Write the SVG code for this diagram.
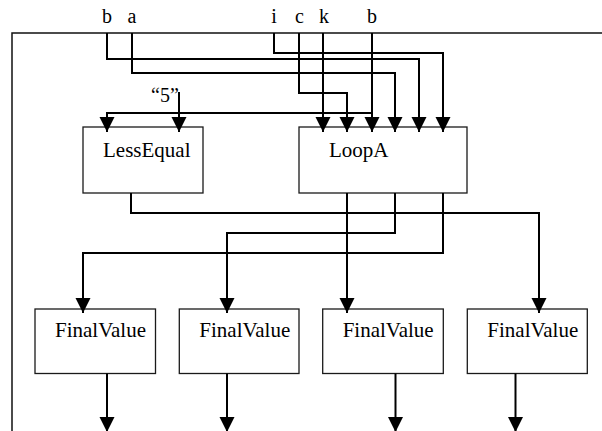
<svg xmlns="http://www.w3.org/2000/svg" width="602" height="431" viewBox="0 0 602 431">
  <style>
    .frame { fill: none; stroke: #111; stroke-width: 1.5; }
    .box { fill: #fff; stroke: #1a1a1a; stroke-width: 1.3; }
    .wire { fill: none; stroke: #000; stroke-width: 2; marker-end: url(#arrow); }
    .plain { fill: none; stroke: #000; stroke-width: 2; }
    .lbl { font-family: "Liberation Serif", "Times New Roman", serif; font-size: 20px; fill: #000; }
    .name { font-family: "Liberation Serif", "Times New Roman", serif; font-size: 21px; fill: #000; }
  </style>
  <defs>
    <marker id="arrow" markerUnits="userSpaceOnUse" markerWidth="16" markerHeight="16" viewBox="0 0 16 16" refX="15" refY="8" orient="auto">
      <path d="M0,0.5 L15,8 L0,15.5 z" fill="#000"/>
    </marker>
  </defs>
  <rect width="602" height="431" fill="#fff"/>

  <!-- enclosing frame (continues past the right and bottom edges) -->
  <path class="frame" d="M12,440 V33 H610"/>

  <!-- input names -->
  <g id="inputs">
    <text class="lbl" x="107" y="23" text-anchor="middle">b</text>
    <text class="lbl" x="132" y="23" text-anchor="middle">a</text>
    <text class="lbl" x="274" y="23" text-anchor="middle">i</text>
    <text class="lbl" x="299.5" y="23" text-anchor="middle">c</text>
    <text class="lbl" x="324" y="23" text-anchor="middle">k</text>
    <text class="lbl" x="372" y="23" text-anchor="middle">b</text>
    <text class="lbl" x="165" y="102" text-anchor="middle">“5”</text>
  </g>

  <!-- nodes -->
  <g id="lessequal">
    <rect class="box" x="83" y="127" width="120" height="66"/>
    <text class="name" x="103" y="157">LessEqual</text>
  </g>
  <g id="loopa">
    <rect class="box" x="299" y="127" width="168" height="66"/>
    <text class="name" x="329" y="157">LoopA</text>
  </g>
  <g id="finalvalue1">
    <rect class="box" x="35" y="309" width="120.5" height="64.5"/>
    <text class="name" x="55" y="337">FinalValue</text>
  </g>
  <g id="finalvalue2">
    <rect class="box" x="179.3" y="309" width="119.7" height="64.5"/>
    <text class="name" x="199.3" y="337">FinalValue</text>
  </g>
  <g id="finalvalue3">
    <rect class="box" x="322.7" y="309" width="120.6" height="64.5"/>
    <text class="name" x="342.7" y="337">FinalValue</text>
  </g>
  <g id="finalvalue4">
    <rect class="box" x="467.3" y="309" width="120" height="64.5"/>
    <text class="name" x="487.3" y="337">FinalValue</text>
  </g>

  <!-- connectors -->
  <g id="connectors">
    <!-- inputs into LoopA -->
    <path class="wire" d="M107,33 V59 H419 V132"/>
    <path class="wire" d="M132,33 V73 H395 V132"/>
    <path class="wire" d="M274,33 V53 H443 V132"/>
    <path class="wire" d="M299,33 V93 H347 V132"/>
    <path class="wire" d="M323,33 V132"/>
    <path class="wire" d="M372,33 V132"/>
    <!-- b and constant into LessEqual -->
    <path class="wire" d="M372,113 H107 V132"/>
    <path class="wire" d="M179,92 V132"/>
    <!-- outputs to FinalValue nodes -->
    <path class="wire" d="M131,193 V213 H539 V313"/>
    <path class="wire" d="M347,193 V313"/>
    <path class="wire" d="M395,193 V233 H227 V313"/>
    <path class="wire" d="M443,193 V253 H83 V313"/>
    <!-- FinalValue results -->
    <path class="wire" d="M107,373.5 V432"/>
    <path class="wire" d="M227,373.5 V432"/>
    <path class="wire" d="M395.5,373.5 V432"/>
    <path class="wire" d="M515.5,373.5 V432"/>
  </g>
</svg>
